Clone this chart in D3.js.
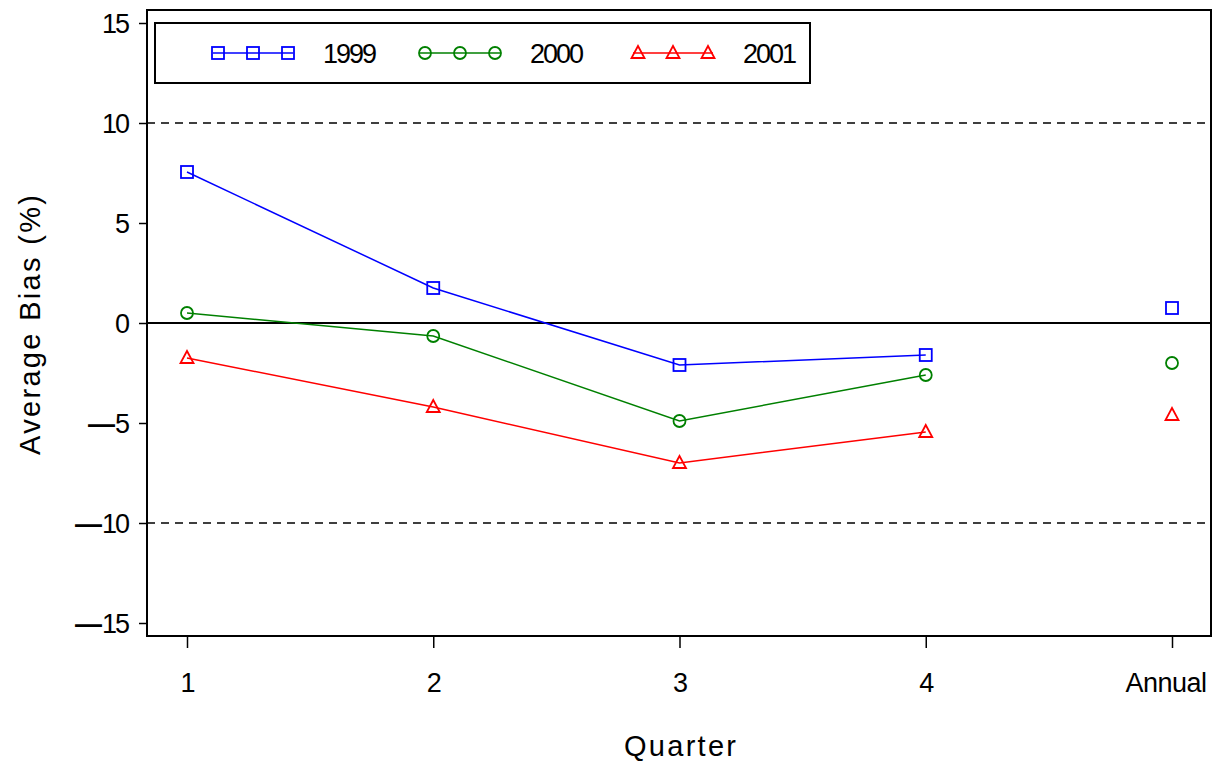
<!DOCTYPE html>
<html>
<head>
<meta charset="utf-8">
<script src="https://cdn.jsdelivr.net/npm/d3@7"></script>
<style>
  html, body { margin: 0; padding: 0; background: #fff; }
  svg { display: block; }
  text { font-family: "Liberation Sans", Arial, sans-serif; fill: #000; }
</style>
</head>
<body>
<svg id="chart" width="1213" height="763"></svg>
<script>
// ---- data ----
const categories = ["1", "2", "3", "4", "Annual"];
const quarterCats = ["1", "2", "3", "4"];
const seriesNames = ["1999", "2000", "2001"];
const values1999 = [7.55, 1.75, -2.1, -1.6, 0.75];
const values2000 = [0.5, -0.65, -4.9, -2.6, -2.0];
const values2001 = [-1.75, -4.2, -7.0, -5.45, -4.6];
const yTicks = [-15, -10, -5, 0, 5, 10, 15];
const refLines = [10, -10];
const xTitle = "Quarter";
const yTitle = "Average Bias (%)";

const series = [
  { name: seriesNames[0], values: values1999, color: "#0000ff", shape: "square" },
  { name: seriesNames[1], values: values2000, color: "#008000", shape: "circle" },
  { name: seriesNames[2], values: values2001, color: "#ff0000", shape: "triangle" }
];

// ---- layout ----
const svg = d3.select("#chart");
const L = 147, R = 1211, T = 10, B = 636;

const x = d3.scalePoint().domain(categories).range([187, 1172]);
const y = d3.scaleLinear().domain([-15, 15]).range([623, 23]);

// reference lines
svg.selectAll("line.ref").data(refLines).join("line")
  .attr("class", "ref")
  .attr("x1", L).attr("x2", R)
  .attr("y1", d => y(d)).attr("y2", d => y(d))
  .attr("stroke", "#000").attr("stroke-width", 1.7)
  .attr("stroke-dasharray", "8,6");

// zero line
svg.append("line")
  .attr("x1", L).attr("x2", R)
  .attr("y1", y(0)).attr("y2", y(0))
  .attr("stroke", "#000").attr("stroke-width", 2);

// y axis
const yAxis = svg.append("g").attr("transform", `translate(${L},0)`)
  .call(d3.axisLeft(y).tickValues(yTicks).tickSize(8).tickPadding(6).tickFormat(""));
yAxis.select(".domain").remove();
yAxis.selectAll(".tick line").attr("stroke", "#000").attr("stroke-width", 1.5);
yAxis.selectAll(".tick").each(function(d) {
  const g = d3.select(this);
  const t = g.append("text")
    .attr("x", -19).attr("dy", "0.36em")
    .attr("text-anchor", "end")
    .style("font-size", "27px")
    .attr("letter-spacing", "-2");
  if (d < 0) {
    t.append("tspan").attr("font-weight", "bold").attr("letter-spacing", "0").text("\u2014");
    t.append("tspan").text(String(Math.abs(d)));
  } else {
    t.text(String(d));
  }
});

// x axis
const xAxis = svg.append("g").attr("transform", `translate(0,${B})`)
  .call(d3.axisBottom(x).tickSize(12).tickPadding(0).tickFormat(""));
xAxis.select(".domain").remove();
xAxis.selectAll(".tick line").attr("stroke", "#000").attr("stroke-width", 1.5);
xAxis.selectAll(".tick").append("text")
  .attr("y", 56)
  .attr("x", d => d === "Annual" ? 34 : 0)
  .attr("text-anchor", d => d === "Annual" ? "end" : "middle")
  .style("font-size", "27px")
  .attr("letter-spacing", d => d === "Annual" ? "-0.5" : "-1")
  .text(d => d);

// frame
svg.append("rect")
  .attr("x", L).attr("y", T).attr("width", R - L).attr("height", B - T)
  .attr("fill", "none").attr("stroke", "#000").attr("stroke-width", 2);

// titles
svg.append("text")
  .attr("x", 680).attr("y", 756).attr("text-anchor", "middle")
  .style("font-size", "29px")
  .attr("textLength", 112).attr("lengthAdjust", "spacing")
  .text(xTitle);
svg.append("text")
  .attr("transform", `translate(40,${325}) rotate(-90)`)
  .attr("text-anchor", "middle")
  .style("font-size", "29px")
  .attr("textLength", 260).attr("lengthAdjust", "spacing")
  .text(yTitle);

// markers
function drawMarker(g, shape, cx, cy, color) {
  if (shape === "square") {
    g.append("rect").attr("x", cx - 6).attr("y", cy - 6).attr("width", 12).attr("height", 12)
      .attr("fill", "none").attr("stroke", color).attr("stroke-width", 1.8);
  } else if (shape === "circle") {
    g.append("circle").attr("cx", cx).attr("cy", cy).attr("r", 6)
      .attr("fill", "none").attr("stroke", color).attr("stroke-width", 1.8);
  } else {
    g.append("path")
      .attr("d", `M${cx},${cy - 7}L${cx + 6.5},${cy + 5}L${cx - 6.5},${cy + 5}Z`)
      .attr("fill", "none").attr("stroke", color).attr("stroke-width", 1.8);
  }
}

const line = d3.line().x(d => x(d.cat)).y(d => y(d.v));
series.forEach(s => {
  const pts = categories.map((c, i) => ({ cat: c, v: s.values[i] }));
  const linePts = pts.filter(p => quarterCats.includes(p.cat));
  svg.append("path").datum(linePts)
    .attr("d", line)
    .attr("fill", "none").attr("stroke", s.color).attr("stroke-width", 1.5);
  const g = svg.append("g");
  pts.forEach(p => drawMarker(g, s.shape, x(p.cat), y(p.v), s.color));
});

// legend
const lg = svg.append("g");
lg.append("rect").attr("x", 155).attr("y", 23).attr("width", 655).attr("height", 60)
  .attr("fill", "#fff").attr("stroke", "#000").attr("stroke-width", 2);
const legendX = [213, 420, 633];
series.forEach((s, i) => {
  const x0 = legendX[i], ly = 53;
  lg.append("line").attr("x1", x0).attr("x2", x0 + 80).attr("y1", ly).attr("y2", ly)
    .attr("stroke", s.color).attr("stroke-width", 1.5);
  [x0 + 5, x0 + 40, x0 + 75].forEach(mx => drawMarker(lg, s.shape, mx, ly, s.color));
  lg.append("text").attr("x", x0 + 110).attr("y", ly).attr("dy", "0.36em")
    .style("font-size", "27px").attr("letter-spacing", "-2")
    .text(s.name);
});
</script>
</body>
</html>
